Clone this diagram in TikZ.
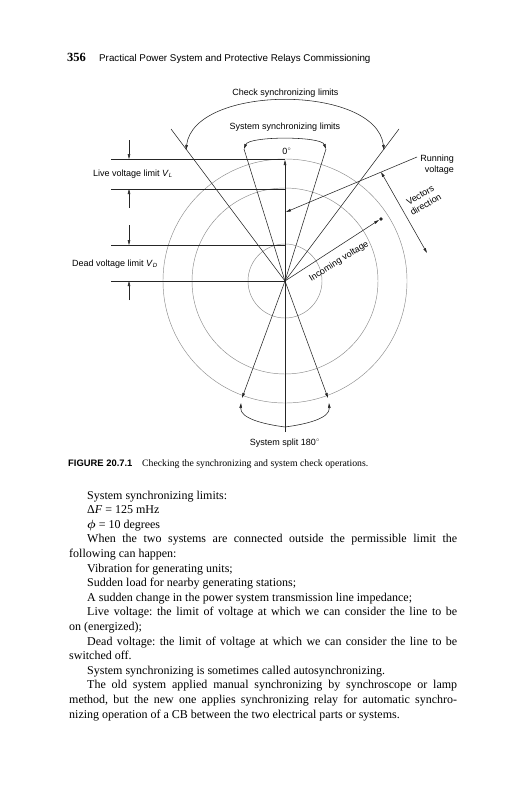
\documentclass[tikz,border=0pt]{standalone}
\usepackage{fontspec}
\setmainfont{Liberation Serif}
\setsansfont{Liberation Sans}
\usepackage{bm}
\usetikzlibrary{arrows.meta}
\frenchspacing
\begin{document}
\begin{tikzpicture}[x=1pt,y=-1pt,
  ln/.style={line width=0.55pt, black!85},
  circ/.style={line width=0.45pt, black!45},
  tip/.style={-{Triangle[length=5pt,width=2.6pt]}},
  tips/.style={{Triangle[length=5pt,width=2.6pt]}-{Triangle[length=5pt,width=2.6pt]}},
  lbl/.style={font=\sffamily\fontsize{9}{11}\selectfont, inner sep=0pt},
  body/.style={font=\frenchspacing\fontsize{12}{14.6}\selectfont, inner sep=0pt, anchor=base west},
]
\useasboundingbox[fill=white] (0,0) rectangle (531,800);

% header
\node[anchor=base west, inner sep=0pt, font=\bfseries\fontsize{12.5}{14}\selectfont] (pg) at (67,62) {356};
\node[anchor=base west, inner sep=0pt, font=\sffamily\fontsize{9.8}{12}\selectfont] (hd) at (99,62) {Practical Power System and Protective Relays Commissioning};

% diagram geometry
\coordinate (O) at (285,281);
\draw[circ] (O) circle (122pt);
\draw[circ] (O) circle (93pt);
\draw[circ] (O) circle (37pt);

\coordinate (h1a) at (111,159); \coordinate (h1b) at (285,159);
\coordinate (h2a) at (111,189); \coordinate (h2b) at (285,189);
\coordinate (h3a) at (111,245); \coordinate (h3b) at (285,245);
\coordinate (h4a) at (111,281);
\draw[ln] (h1a) -- (h1b);
\draw[ln] (h2a) -- (h2b);
\draw[ln] (h3a) -- (h3b);
\draw[ln] (h4a) -- (O);

% dimension arrows
\coordinate (d1) at (129,140); \coordinate (d1t) at (129,159);
\coordinate (d2) at (129,208); \coordinate (d2t) at (129,189);
\coordinate (d3) at (129,225); \coordinate (d3t) at (129,245);
\coordinate (d4) at (129,300); \coordinate (d4t) at (129,281);
\draw[ln,tip] (d1) -- (d1t);
\draw[ln,tip] (d2) -- (d2t);
\draw[ln,tip] (d3) -- (d3t);
\draw[ln,tip] (d4) -- (d4t);

% vertical axis
\coordinate (vbot) at (285,432); \coordinate (vtop) at (285,160);
\draw[ln,tip] (vbot) -- (vtop);

% check synchronizing lines
\coordinate (cl) at (171,129); \coordinate (cr) at (399,129);
\draw[ln] (cl) -- (O) -- (cr);

% system synchronizing lines
\coordinate (sl) at (244,149); \coordinate (sr) at (326,149);
\draw[ln] (O) -- (sl);
\draw[ln] (O) -- (sr);
\coordinate (pl) at (242,398); \coordinate (pr) at (328,398);
\draw[ln,tip] (O) -- (pl);
\draw[ln,tip] (O) -- (pr);

% running voltage
\coordinate (rs) at (417,157); \coordinate (re) at (286,212);
\draw[ln,tip] (rs) -- (re);
% vectors direction
\coordinate (va) at (381,172); \coordinate (vb) at (427,253);
\draw[ln,tips] (va) -- (vb);
% incoming voltage
\coordinate (ie) at (379,220); \coordinate (idot) at (381,219);
\draw[ln,tip] (O) -- (ie);
\fill[black!85] (idot) circle (1.8pt);

% arcs
\coordinate (ca) at (186,150); \coordinate (cb) at (384,150);
\draw[ln,tips] (ca) .. controls (194,84) and (376,84) .. (cb);
\coordinate (sa) at (244,149); \coordinate (sb) at (326,149);
\draw[ln,tips] (sa) .. controls (249,136) and (321,136) .. (sb);
\coordinate (pa) at (241,403); \coordinate (pm) at (285,427); \coordinate (pb) at (329,403);
\draw[ln,tips] (pa) .. controls (240,418) and (262,424) .. (pm) .. controls (308,424) and (330,418) .. (pb);

% labels
\node[lbl] (chk) at (285.5,93) {Check synchronizing limits};
\node[lbl] (sys) at (285,127) {System synchronizing limits};
\node[lbl] (zero) at (287,151) {0\textsuperscript{\tiny$\circ$}};
\node[lbl,anchor=west] (live) at (93,174) {Live voltage limit \textit{V}\textsubscript{\textit{L}}};
\node[lbl,anchor=west] (dead) at (72,264) {Dead voltage limit \textit{V}\textsubscript{\textit{D}}};
\node[lbl,align=right,anchor=east] (run) at (454,165) {Running\\voltage};
\node[lbl,align=center,rotate=30] (vec) at (423,200) {Vectors\\direction};
\node[lbl,rotate=32] (inc) at (339,261.5) {Incoming voltage};
\node[lbl] (split) at (285,443) {System split 180\textsuperscript{\tiny$\circ$}};

% caption
\node[anchor=base west, inner sep=0pt, font=\sffamily\bfseries\fontsize{9.4}{12}\selectfont] (figl) at (68,466.5) {FIGURE 20.7.1};
\node[anchor=base west, inner sep=0pt, font=\fontsize{9.75}{12}\selectfont] (cap) at (142,466.5) {Checking the synchronizing and system check operations.};

% body text
\node[body] (t1) at (87,499) {System synchronizing limits:};
\node[body] (t2) at (87,513.6) {Δ\textit{F} = 125 mHz};
\node[body] (t3) at (87,528.2) {$\bm{\phi}$ = 10 degrees};
\node[body] (t4) at (87,542.8) {\makebox[370pt][s]{When the two systems are connected outside the permissible limit the}};
\node[body] (t5) at (69,557.4) {following can happen:};
\node[body] (t6) at (87,572) {Vibration for generating units;};
\node[body] (t7) at (87,586.6) {Sudden load for nearby generating stations;};
\node[body] (t8) at (87,601.2) {A sudden change in the power system transmission line impedance;};
\node[body] (t9) at (87,615.8) {\makebox[370pt][s]{Live voltage: the limit of voltage at which we can consider the line to be}};
\node[body] (t10) at (69,630.4) {on (energized);};
\node[body] (t11) at (87,645) {\makebox[370pt][s]{Dead voltage: the limit of voltage at which we can consider the line to be}};
\node[body] (t12) at (69,659.6) {switched off.};
\node[body] (t13) at (87,674.2) {System synchronizing is sometimes called autosynchronizing.};
\node[body] (t14) at (87,688.8) {\makebox[370pt][s]{The old system applied manual synchronizing by synchroscope or lamp}};
\node[body] (t15) at (69,703.4) {\makebox[388pt][s]{method, but the new one applies synchronizing relay for automatic synchro-}};
\node[body] (t16) at (69,718) {nizing operation of a CB between the two electrical parts or systems.};
\end{tikzpicture}
\end{document}
